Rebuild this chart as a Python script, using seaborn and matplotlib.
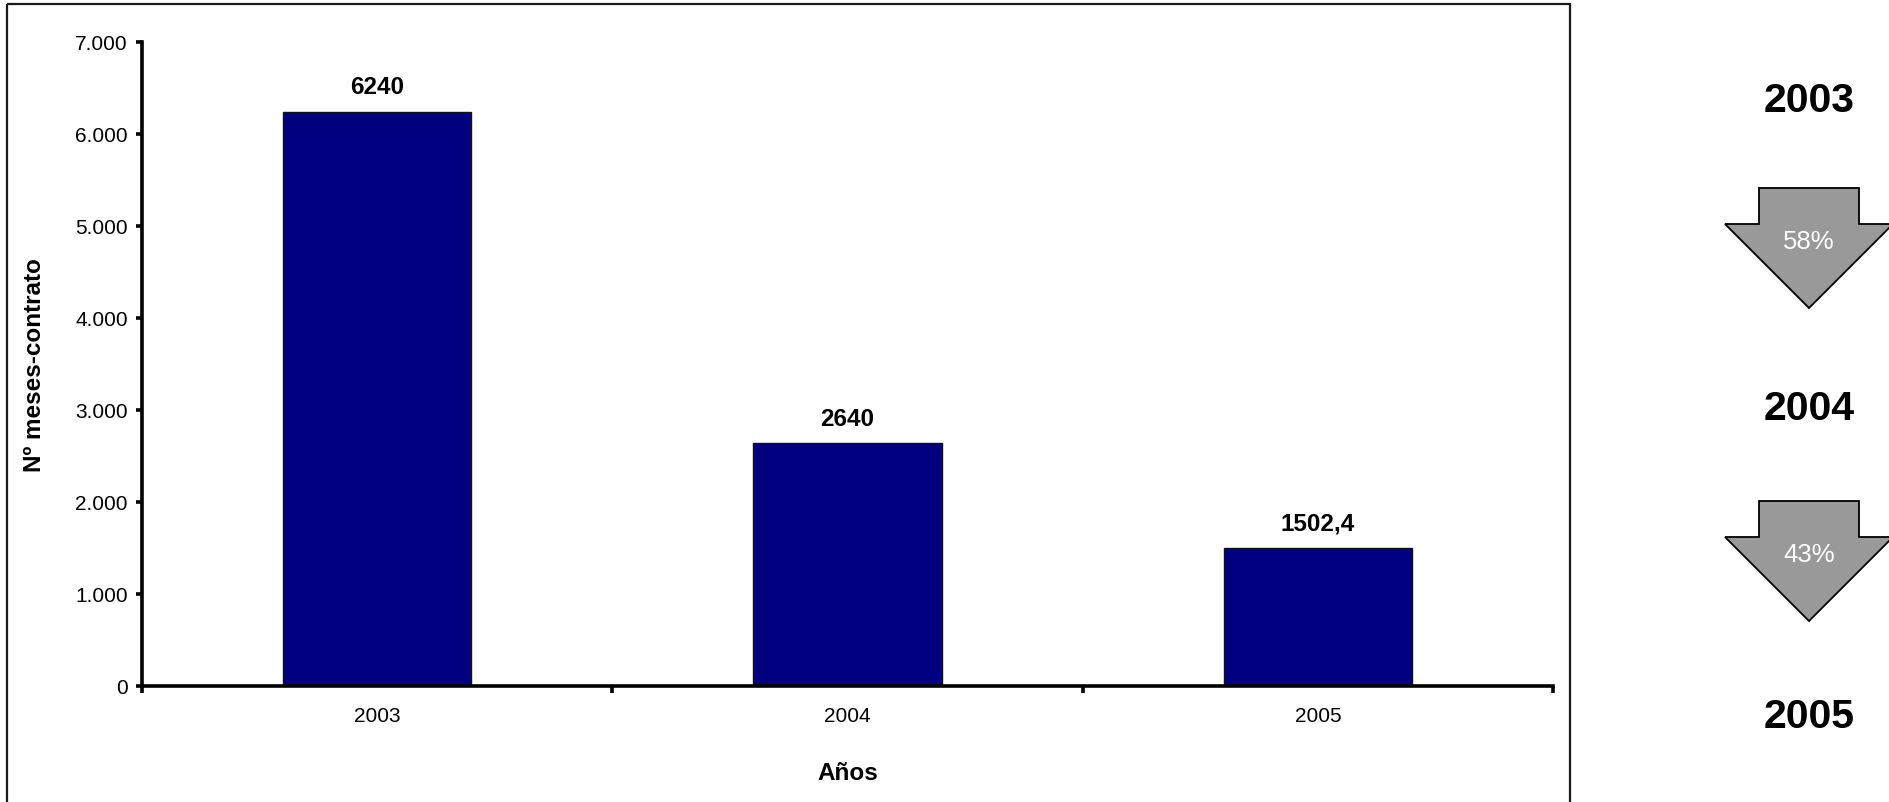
import matplotlib
matplotlib.use("Agg")
import matplotlib.pyplot as plt
import seaborn as sns
import pandas as pd
from matplotlib.patches import Polygon, Rectangle
from matplotlib.ticker import FuncFormatter, FixedLocator, FixedFormatter, NullFormatter

# ---- data ----
years = ["2003", "2004", "2005"]
meses_contrato = [6240, 2640, 1502.4]
y_ticks = [0, 1000, 2000, 3000, 4000, 5000, 6000, 7000]
x_title = "Años"
y_title = "Nº meses-contrato"

sns.set_theme(style="white")
plt.rcParams["font.family"] = ["Liberation Sans", "DejaVu Sans"]

W, H, DPI = 1890, 803, 100
fig = plt.figure(figsize=(W / DPI, H / DPI), dpi=DPI)
fig.patch.set_facecolor("white")

# main axes placed in pixel layout
ax_l, ax_r, ax_t, ax_b = 142, 1553, 43, 687
ax = fig.add_axes([ax_l / W, 1 - ax_b / H, (ax_r - ax_l) / W, (ax_b - ax_t) / H])
ax.set_facecolor("none")

df = pd.DataFrame({"Año": years, "Meses": meses_contrato})
sns.barplot(data=df, x="Año", y="Meses", color="#000080", saturation=1,
            width=0.4, edgecolor="#111111", linewidth=1.0, ax=ax)

ax.set_xlim(-0.5, len(years) - 0.5)
ax.set_ylim(0, 7000)

for s in ["top", "right"]:
    ax.spines[s].set_visible(False)
for s in ["left", "bottom"]:
    ax.spines[s].set_visible(True)
    ax.spines[s].set_color("black")
    ax.spines[s].set_linewidth(2.6)

# y ticks
ax.set_yticks(y_ticks)
ax.yaxis.set_major_formatter(FuncFormatter(lambda v, p: f"{int(v):,}".replace(",", ".")))
ax.tick_params(axis="y", left=True, direction="out", length=4.3, width=2.6,
               pad=5.8, labelsize=15, colors="black")

# x ticks: marks at category boundaries, labels at centers
ax.xaxis.set_major_locator(FixedLocator([i - 0.5 for i in range(len(years) + 1)]))
ax.xaxis.set_major_formatter(NullFormatter())
ax.xaxis.set_minor_locator(FixedLocator(list(range(len(years)))))
ax.xaxis.set_minor_formatter(FixedFormatter(years))
ax.tick_params(axis="x", which="major", bottom=True, direction="out", length=5,
               width=2.6, colors="black")
ax.tick_params(axis="x", which="minor", bottom=True, length=0, pad=14.5,
               labelsize=15, labelcolor="black")

ax.set_xlabel(x_title, fontsize=17.5, fontweight="bold", color="black")
ax.set_ylabel(y_title, fontsize=17.5, fontweight="bold", color="black")
ax.xaxis.label.set_verticalalignment("center")
ax.yaxis.label.set_verticalalignment("center")
ax.xaxis.set_label_coords(0.5, -(774 - ax_b) / (ax_b - ax_t))
ax.yaxis.set_label_coords((35 - ax_l) / (ax_r - ax_l), 0.5)


def fmt_val(v):
    if float(v).is_integer():
        return str(int(v))
    return f"{v}".replace(".", ",")


for i, v in enumerate(meses_contrato):
    ax.annotate(fmt_val(v), xy=(i, v), xytext=(0, 25), textcoords="offset pixels",
                ha="center", va="center", fontsize=17.5, fontweight="bold", color="black")

# ---- overlay in pixel coordinates: frame + right panel ----
ov = fig.add_axes([0, 0, 1, 1])
ov.set_xlim(0, W)
ov.set_ylim(H, 0)
ov.axis("off")
ov.set_zorder(5)

ov.add_patch(Rectangle((7, 5), 1570 - 7, 820, fill=False, lw=1.6, ec="#1a1a1a"))

cx = 1809
year_y = [101, 409, 717]
for yr, yy in zip(years, year_y):
    ov.text(cx, yy, yr, ha="center", va="center", fontsize=29.5, fontweight="bold", color="black")

arrow_tops = [189, 502]
stem_half, head_half, stem_h = 50, 84, 36
for k in range(len(years) - 1):
    a, b = meses_contrato[k], meses_contrato[k + 1]
    pct = round((a - b) / a * 100)
    top = arrow_tops[k]
    sh = top + stem_h
    tip = sh + head_half
    pts = [(cx - stem_half, top), (cx + stem_half, top), (cx + stem_half, sh),
           (cx + head_half, sh), (cx, tip), (cx - head_half, sh), (cx - stem_half, sh)]
    ov.add_patch(Polygon(pts, closed=True, fc="#999999", ec="black", lw=1.3))
    ov.text(cx, sh + 17, f"{pct}%", ha="center", va="center", fontsize=18.5, color="white")

fig.savefig("out.png", dpi=DPI, facecolor="white")
